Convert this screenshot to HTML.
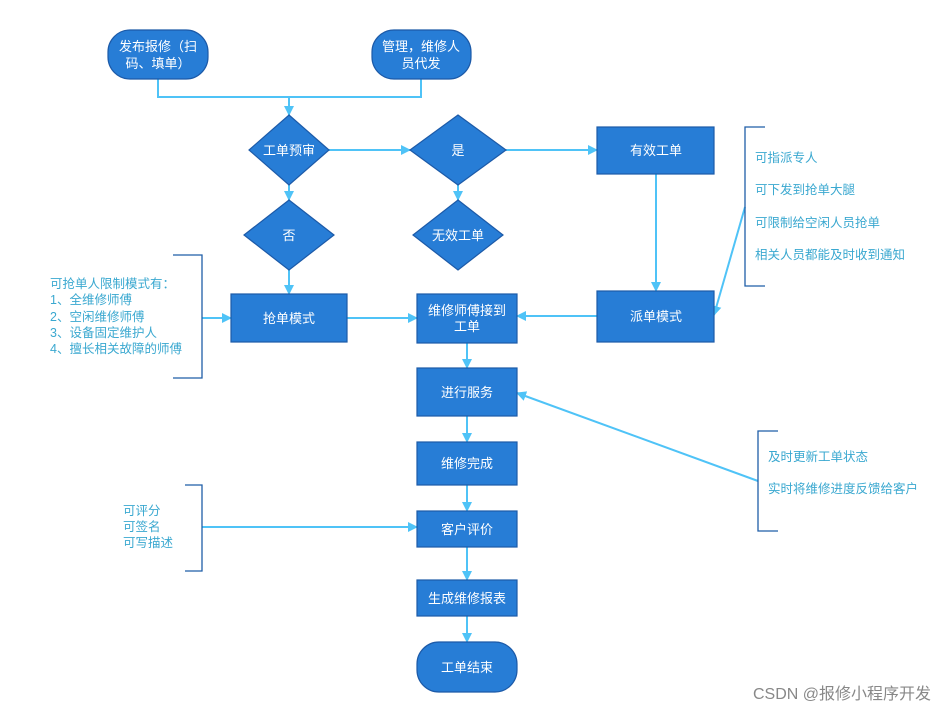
<!DOCTYPE html><html><head><meta charset="utf-8"><style>body{margin:0;background:#fff}svg{display:block}text{font-family:"Liberation Sans","Noto Sans CJK SC",sans-serif}</style></head><body>
<svg width="947" height="712" viewBox="0 0 947 712" xmlns="http://www.w3.org/2000/svg">
<defs><marker id="a" markerWidth="10" markerHeight="10" refX="9" refY="5" orient="auto" markerUnits="userSpaceOnUse"><path d="M0,0 L10,5 L0,10 z" fill="#4fc3f7"/></marker></defs>
<g stroke="#4fc3f7" stroke-width="2" fill="none">
<path d="M158,79 V97 H421 V79"/>
<path d="M289,97 V115" marker-end="url(#a)"/>
<path d="M329,150 H410" marker-end="url(#a)"/>
<path d="M506,150 H597" marker-end="url(#a)"/>
<path d="M289,185 V200" marker-end="url(#a)"/>
<path d="M458,185 V200" marker-end="url(#a)"/>
<path d="M289,270 V294" marker-end="url(#a)"/>
<path d="M347,318 H417" marker-end="url(#a)"/>
<path d="M597,316 H517" marker-end="url(#a)"/>
<path d="M656,174 V291" marker-end="url(#a)"/>
<path d="M745,207 L714,315" marker-end="url(#a)"/>
<path d="M202,318 H231" marker-end="url(#a)"/>
<path d="M467,343 V368" marker-end="url(#a)"/>
<path d="M758,481 L517,393" marker-end="url(#a)"/>
<path d="M467,416 V442" marker-end="url(#a)"/>
<path d="M467,485 V511" marker-end="url(#a)"/>
<path d="M202,527 H417" marker-end="url(#a)"/>
<path d="M467,547 V580" marker-end="url(#a)"/>
<path d="M467,616 V642" marker-end="url(#a)"/>
</g>
<g fill="none" stroke="#1f5ea8" stroke-width="1.3">
<path d="M765,127 H745 V286 H765"/>
<path d="M173,255 H202 V378 H173"/>
<path d="M778,431 H758 V531 H778"/>
<path d="M185,485 H202 V571 H185"/>
</g>
<g fill="#277dd6" stroke="#1c5aa8" stroke-width="1.2">
<rect x="108" y="30" width="100" height="49" rx="22"/>
<rect x="372" y="30" width="99" height="49" rx="22"/>
<path d="M289,115 L329,150 L289,185 L249,150 z"/>
<path d="M458,115 L506,150 L458,185 L410,150 z"/>
<path d="M289,200 L334,235 L289,270 L244,235 z"/>
<path d="M458,200 L503,235 L458,270 L413,235 z"/>
<rect x="597" y="127" width="117" height="47"/>
<rect x="231" y="294" width="116" height="48"/>
<rect x="417" y="294" width="100" height="49"/>
<rect x="597" y="291" width="117" height="51"/>
<rect x="417" y="368" width="100" height="48"/>
<rect x="417" y="442" width="100" height="43"/>
<rect x="417" y="511" width="100" height="36"/>
<rect x="417" y="580" width="100" height="36"/>
<rect x="417" y="642" width="100" height="50" rx="22"/>
</g>
<g fill="#fff" font-size="13" text-anchor="middle">
<text x="158" y="51">发布报修（扫</text><text x="158" y="68">码、填单）</text>
<text x="421" y="51">管理，维修人</text><text x="421" y="68">员代发</text>
<text x="289" y="155">工单预审</text>
<text x="458" y="155">是</text>
<text x="289" y="240">否</text>
<text x="458" y="240">无效工单</text>
<text x="656" y="155">有效工单</text>
<text x="289" y="323">抢单模式</text>
<text x="467" y="315">维修师傅接到</text><text x="467" y="331">工单</text>
<text x="656" y="321">派单模式</text>
<text x="467" y="397">进行服务</text>
<text x="467" y="468">维修完成</text>
<text x="467" y="534">客户评价</text>
<text x="467" y="603">生成维修报表</text>
<text x="467" y="672">工单结束</text>
</g>
<g fill="#3aa8d0" font-size="12.5">
<text x="755" y="162">可指派专人</text>
<text x="755" y="194">可下发到抢单大腿</text>
<text x="755" y="227">可限制给空闲人员抢单</text>
<text x="755" y="259">相关人员都能及时收到通知</text>
<text x="50" y="288">可抢单人限制模式有：</text>
<text x="50" y="304">1、全维修师傅</text>
<text x="50" y="321">2、空闲维修师傅</text>
<text x="50" y="337">3、设备固定维护人</text>
<text x="50" y="353">4、擅长相关故障的师傅</text>
<text x="768" y="461">及时更新工单状态</text>
<text x="768" y="493">实时将维修进度反馈给客户</text>
<text x="123" y="515">可评分</text>
<text x="123" y="531">可签名</text>
<text x="123" y="547">可写描述</text>
</g>
<text x="931" y="699" text-anchor="end" font-size="16" fill="#888">CSDN @报修小程序开发</text>
</svg></body></html>
